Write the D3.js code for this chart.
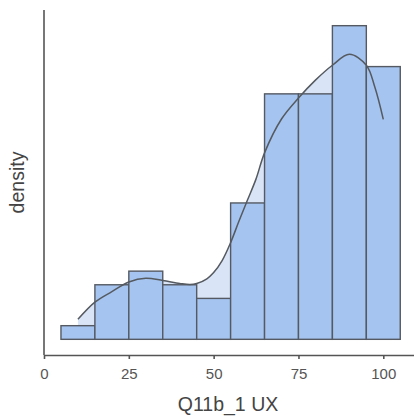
<!DOCTYPE html>
<html>
<head>
<meta charset="utf-8">
<script src="https://cdn.jsdelivr.net/npm/d3@7"></script>
<style>
  html, body { margin: 0; padding: 0; background: #fff; }
  svg { display: block; }
  text { font-family: "Liberation Sans", Arial, Helvetica, sans-serif; }
</style>
</head>
<body>
<svg id="chart" width="414" height="417"></svg>
<script>
// Histogram bins (width 10) and their counts
const binStarts = [5, 15, 25, 35, 45, 55, 65, 75, 85, 95];
const binWidth = 10;
const binCounts = [1, 4, 5, 4, 3, 10, 18, 18, 23, 20];

// Smoothed density estimate
const kdeX = [10, 15, 20, 25, 30, 35, 40, 43, 45, 48, 50, 52.5, 55, 57.5, 60, 62.5, 65, 70, 75, 80, 85, 90, 95, 97.5, 100];
const kdeY = [0.00138, 0.00257, 0.0033, 0.00397, 0.00423, 0.00407, 0.00387, 0.00379, 0.00386, 0.00419,
              0.00462, 0.00545, 0.00669, 0.0082, 0.00965, 0.0111, 0.0129, 0.01524, 0.01669, 0.01793,
              0.01896, 0.01972, 0.01896, 0.01745, 0.01522];

const xTicks = [0, 25, 50, 75, 100];
const xTitle = "Q11b_1 UX";
const yTitle = "density";

const total = d3.sum(binCounts);
const bins = binStarts.map((s, i) => ({ x0: s, x1: s + binWidth, d: binCounts[i] / (total * binWidth) }));
const kde = kdeX.map((x, i) => ({ x, y: kdeY[i] }));

const svg = d3.select("#chart");
const plotLeft = 44, plotRight = 414, plotTop = 10, plotBottom = 355;

const x = d3.scaleLinear().domain([0, 109.05]).range([plotLeft, plotRight]);
const maxD = d3.max(bins, b => b.d);
const y = d3.scaleLinear().domain([-0.05 * maxD, 1.05 * maxD]).range([plotBottom, plotTop]);

// density area behind the bars
svg.append("path")
  .datum(kde)
  .attr("fill", "#d9e4f6")
  .attr("d", d3.area().x(d => x(d.x)).y0(y(0)).y1(d => y(d.y)).curve(d3.curveCatmullRom));

// bars
svg.append("g").selectAll("rect")
  .data(bins)
  .join("rect")
  .attr("x", d => x(d.x0))
  .attr("y", d => y(d.d))
  .attr("width", d => x(d.x1) - x(d.x0))
  .attr("height", d => y(0) - y(d.d))
  .attr("fill", "#a5c4f0")
  .attr("stroke", "#555a62")
  .attr("stroke-width", 1.4);

// density line
svg.append("path")
  .datum(kde)
  .attr("fill", "none")
  .attr("stroke", "#555a60")
  .attr("stroke-width", 1.5)
  .attr("d", d3.line().x(d => x(d.x)).y(d => y(d.y)).curve(d3.curveCatmullRom));

// x axis
const xAxis = svg.append("g")
  .attr("transform", `translate(0,${plotBottom})`)
  .call(d3.axisBottom(x).tickValues(xTicks).tickSize(4).tickSizeOuter(0).tickPadding(9));
xAxis.select(".domain").attr("stroke", "#555").attr("stroke-width", 1.6);
xAxis.selectAll(".tick line").attr("stroke", "#555").attr("stroke-width", 1.6);
xAxis.selectAll(".tick text").attr("fill", "#555").attr("font-size", 15)
  .attr("font-family", "'Liberation Sans', Arial, sans-serif");

// y axis (no ticks)
svg.append("line")
  .attr("x1", plotLeft).attr("x2", plotLeft)
  .attr("y1", plotTop).attr("y2", plotBottom)
  .attr("stroke", "#555").attr("stroke-width", 1.6);

// axis titles
svg.append("text")
  .attr("x", (plotLeft + 414) / 2 - 1)
  .attr("y", 411)
  .attr("text-anchor", "middle")
  .attr("font-size", 19.5)
  .attr("fill", "#444")
  .text(xTitle);

svg.append("text")
  .attr("transform", `translate(24,${(plotTop + plotBottom) / 2}) rotate(-90)`)
  .attr("text-anchor", "middle")
  .attr("font-size", 19.5)
  .attr("fill", "#444")
  .text(yTitle);
</script>
</body>
</html>
